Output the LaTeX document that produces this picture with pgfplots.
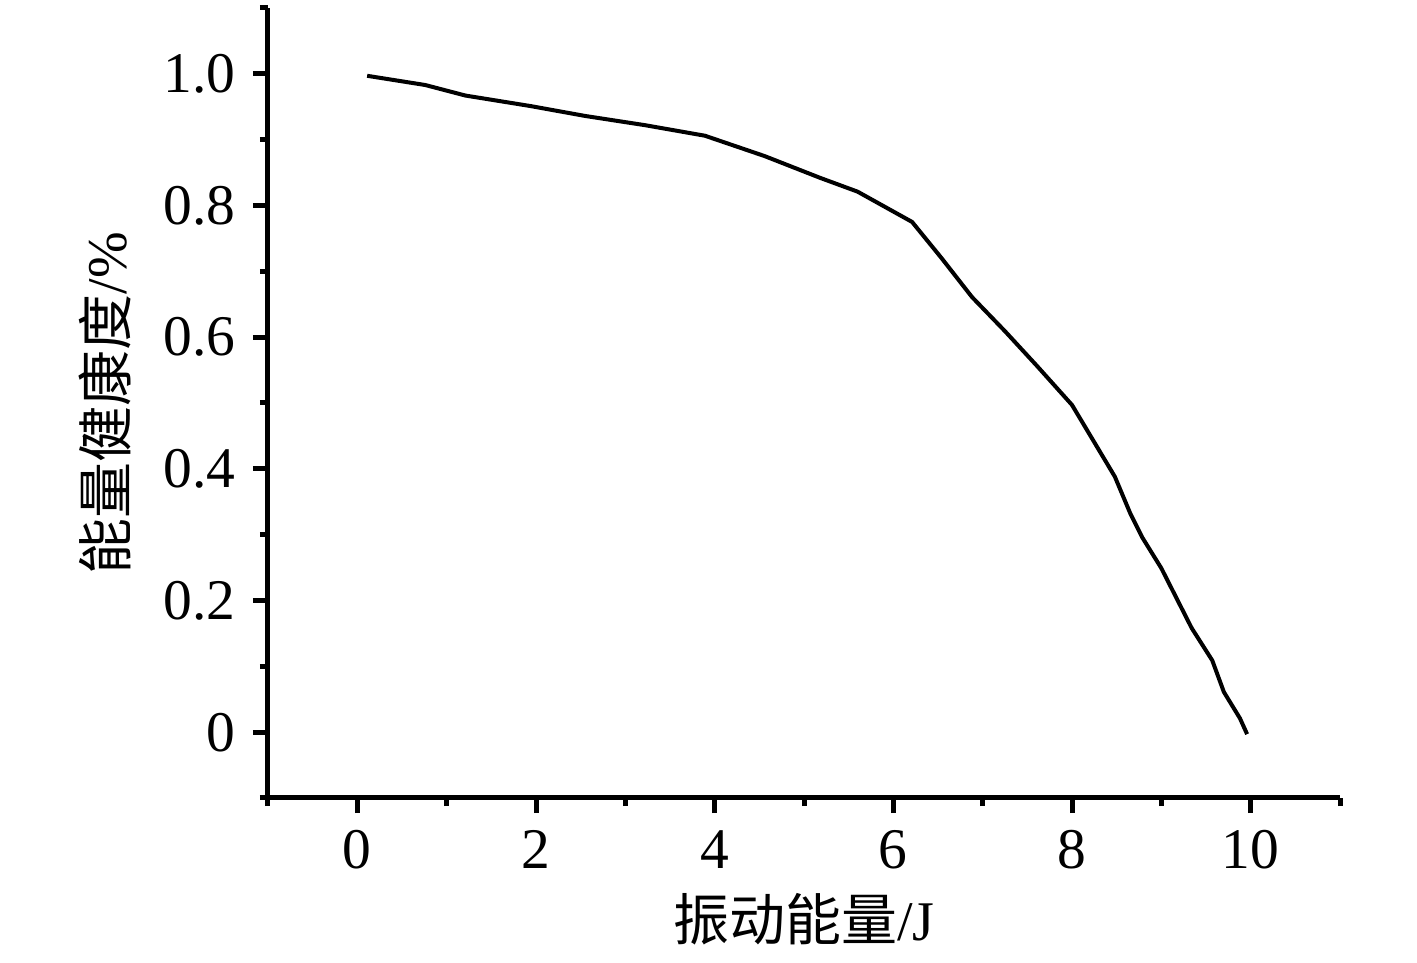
\documentclass[border=0pt]{standalone}
\usepackage{fontspec}
\setmainfont{Liberation Serif}
\newfontfamily\cjk{Noto Sans CJK SC}
\usepackage{pgfplots}
\pgfplotsset{compat=1.18}

\begin{document}
\begin{tikzpicture}
% page frame, 1417x959 px at 5 px/pt
\path (-53.6pt,-32.2pt) rectangle (229.8pt,159.6pt);
\begin{axis}[
  name=ax, at={(0,0)}, anchor=south west,
  scale only axis, width=214.4pt, height=158pt,
  xmin=-1, xmax=11, ymin=-0.1, ymax=1.1,
  axis lines*=left, axis line style={line width=1pt, -},
  tick align=outside, tick style={black, line width=1pt},
  major tick length=3pt, minor tick length=1.6pt,
  xtick={0,2,4,6,8,10}, minor xtick={-1,1,3,5,7,9,11},
  ytick={0,0.2,0.4,0.6,0.8,1.0}, minor ytick={-0.1,0.1,0.3,0.5,0.7,0.9,1.1},
  yticklabels={0,0.2,0.4,0.6,0.8,1.0},
  /pgf/number format/assume math mode=true,
  tick label style={font=\fontsize{11.5}{13}\selectfont},
  label style={font=\fontsize{11.2}{13}\selectfont},
  xlabel={{\cjk 振动能量}/J},
  ylabel={{\cjk 能量健康度}/\%},
  xlabel style={at={(axis description cs:0.5,-0.154)}, anchor=center},
  ylabel style={at={(axis description cs:-0.152,0.5)}, anchor=center, rotate=0},
  clip=false,
]
\addplot[black, line width=0.8pt] coordinates {
(0.11,0.997) (0.76,0.983) (1.21,0.967) (1.94,0.951) (2.55,0.936)
(3.22,0.922) (3.89,0.906) (4.56,0.875) (5.18,0.842) (5.60,0.821)
(6.21,0.775) (6.54,0.720) (6.88,0.661) (7.25,0.609) (7.61,0.556)
(8.00,0.497) (8.48,0.388) (8.65,0.333) (8.79,0.295) (9.00,0.249)
(9.34,0.158) (9.57,0.109) (9.70,0.061) (9.88,0.021) (9.96,-0.003)
};
\end{axis}
\end{tikzpicture}
\end{document}
